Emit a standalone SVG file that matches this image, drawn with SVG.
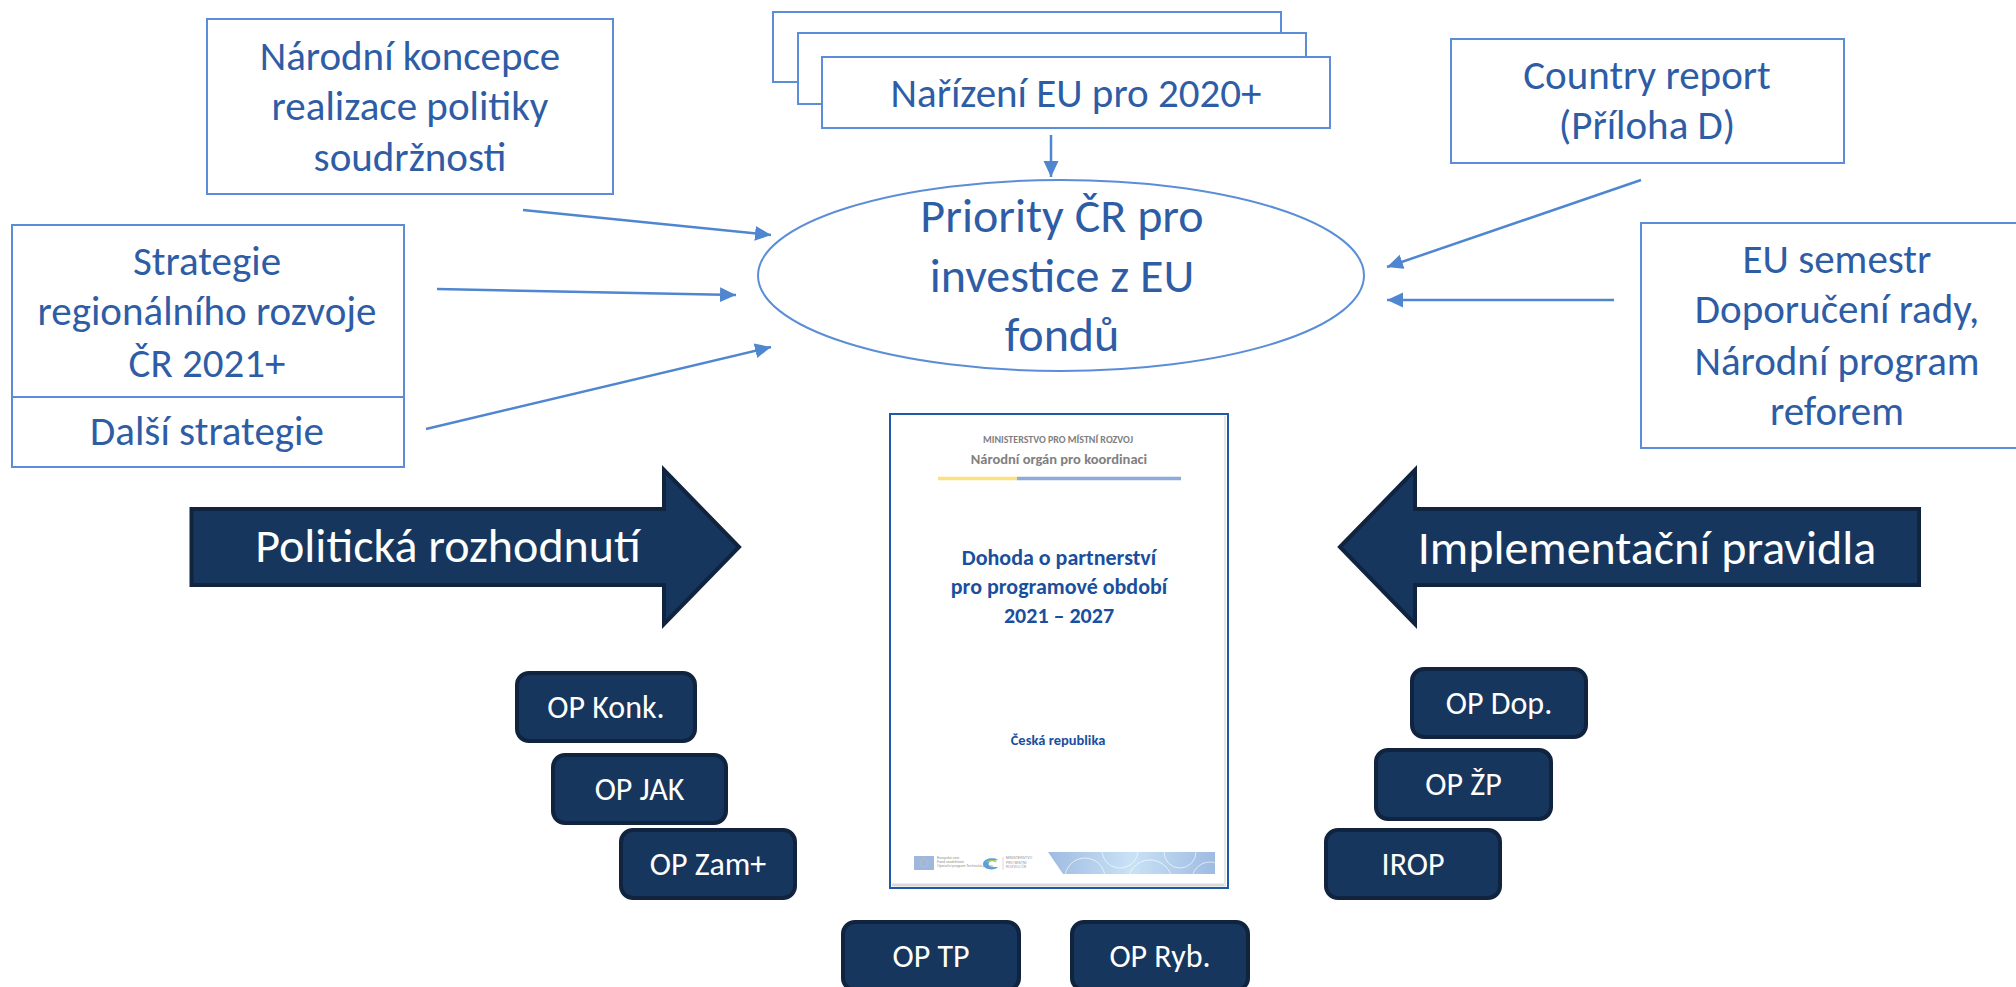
<svg xmlns="http://www.w3.org/2000/svg" width="2016" height="987" viewBox="0 0 2016 987">
<style>
.box{fill:#fff;stroke:#5b8ed6;stroke-width:2}
.t{font-family:Carlito,Lato,'Liberation Sans',sans-serif;fill:#2e5da6;text-anchor:middle}
.t41{font-size:41px}
.t48{font-size:48px}
.big{fill:#17365d;stroke:#10243f;stroke-width:4;stroke-linejoin:miter}
.bt{font-family:Carlito,Lato,'Liberation Sans',sans-serif;fill:#fff;text-anchor:middle;font-size:48px}
.op{fill:#17365d;stroke:#10243f;stroke-width:4}
.ot{font-family:Carlito,Lato,'Liberation Sans',sans-serif;fill:#fff;text-anchor:middle;font-size:32px}
.con{stroke:#4f86d0;stroke-width:2.5;fill:none;marker-end:url(#ah)}
.dg{font-family:Carlito,Lato,'Liberation Sans',sans-serif;fill:#808080;text-anchor:middle;font-weight:bold}
.db{font-family:Carlito,Lato,'Liberation Sans',sans-serif;fill:#1a4f9e;text-anchor:middle;font-weight:bold}
.tiny{font-family:'Liberation Sans',sans-serif;fill:#8c8c8c;font-size:3.5px}
</style>
<defs>
<marker id="ah" markerUnits="userSpaceOnUse" markerWidth="18" markerHeight="16" refX="16" refY="7.5" orient="auto">
<path d="M0,0 L16,7.5 L0,15 z" fill="#4f86d0"/>
</marker>
<linearGradient id="band" x1="0" y1="0" x2="1" y2="0">
<stop offset="0" stop-color="#9fbbe2"/>
<stop offset="0.5" stop-color="#c9e2f6"/>
<stop offset="1" stop-color="#9fbbe2"/>
</linearGradient>
<clipPath id="bandclip"><polygon points="1048,852 1215,852 1215,874 1063,874"/></clipPath>
</defs>

<rect width="2016" height="987" fill="#fff"/>

<g id="narodni-koncepce">
<rect class="box" x="207" y="19" width="406" height="175"/>
<text class="t t41" x="410" y="70">Národní koncepce</text>
<text class="t t41" x="410" y="120">realizace politiky</text>
<text class="t t41" x="410" y="171">soudržnosti</text>
</g>

<g id="strategie">
<rect class="box" x="12" y="225" width="392" height="242"/>
<line x1="12" y1="397" x2="404" y2="397" stroke="#5b8ed6" stroke-width="2"/>
<text class="t t41" x="207" y="275">Strategie</text>
<text class="t t41" x="207" y="325">regionálního rozvoje</text>
<text class="t t41" x="207" y="377">ČR 2021+</text>
<text class="t t41" x="207" y="445">Další strategie</text>
</g>

<g id="narizeni">
<rect class="box" x="773" y="12" width="508" height="70"/>
<rect class="box" x="798" y="33" width="508" height="71"/>
<rect class="box" x="822" y="57" width="508" height="71"/>
<text class="t t41" x="1076" y="107">Nařízení EU pro 2020+</text>
</g>

<g id="priority">
<ellipse cx="1061" cy="275.5" rx="303" ry="95.5" fill="#fff" stroke="#5b8ed6" stroke-width="2"/>
<text class="t t48" x="1062" y="232">Priority ČR pro</text>
<text class="t t48" x="1062" y="292">investice z EU</text>
<text class="t t48" x="1062" y="351">fondů</text>
</g>

<g id="country-report">
<rect class="box" x="1451" y="39" width="393" height="124"/>
<text class="t t41" x="1647" y="89">Country report</text>
<text class="t t41" x="1647" y="139">(Příloha D)</text>
</g>

<g id="eu-semestr">
<rect class="box" x="1641" y="223" width="400" height="225"/>
<text class="t t41" x="1837" y="273">EU semestr</text>
<text class="t t41" x="1837" y="323">Doporučení rady,</text>
<text class="t t41" x="1837" y="375">Národní program</text>
<text class="t t41" x="1837" y="425">reforem</text>
</g>

<g id="connectors">
<line class="con" x1="1051" y1="135" x2="1051" y2="177" stroke-width="1.8"/>
<line class="con" x1="523" y1="210" x2="771" y2="235"/>
<line class="con" x1="437" y1="289" x2="736" y2="295"/>
<line class="con" x1="426" y1="429" x2="771" y2="347"/>
<line class="con" x1="1641" y1="180" x2="1387" y2="267"/>
<line class="con" x1="1614" y1="300" x2="1387" y2="300"/>
</g>

<g id="politicka-rozhodnuti">
<polygon class="big" points="191.5,509 664,509 664,470 739,547 664,624 664,585 191.5,585"/>
<text class="bt" x="448" y="562">Politická rozhodnutí</text>
</g>

<g id="implementacni-pravidla">
<polygon class="big" points="1340,547 1415,470 1415,509 1919,509 1919,585 1415,585 1415,624"/>
<text class="bt" x="1647" y="564">Implementační pravidla</text>
</g>

<g id="dohoda">
<rect x="890" y="414" width="338" height="474" fill="#fff" stroke="#1f5aa8" stroke-width="2"/>
<line x1="892" y1="885" x2="1226" y2="885" stroke="#d9d9d9" stroke-width="3"/>
<line x1="1225" y1="416" x2="1225" y2="886" stroke="#e6e6e6" stroke-width="2"/>
<text class="dg" x="1058" y="443" font-size="10">MINISTERSTVO PRO MÍSTNÍ ROZVOJ</text>
<text class="dg" x="1059" y="464" font-size="14.5">Národní orgán pro koordinaci</text>
<line x1="938" y1="478.5" x2="1017" y2="478.5" stroke="#fde17f" stroke-width="3.5"/>
<line x1="1017" y1="478.5" x2="1181" y2="478.5" stroke="#8eaadb" stroke-width="3.5"/>
<text class="db" x="1059" y="565" font-size="22">Dohoda o partnerství</text>
<text class="db" x="1059" y="594" font-size="22">pro programové období</text>
<text class="db" x="1059" y="623" font-size="22">2021 – 2027</text>
<text class="db" x="1058" y="745" font-size="14.5">Česká republika</text>
<rect x="914" y="856" width="20" height="14" fill="#9fb6de"/>
<circle cx="924" cy="863" r="4" fill="none" stroke="#e8d77a" stroke-width="0.8" stroke-dasharray="0.8,1.3"/>
<text class="tiny" x="937" y="859">Evropská unie</text>
<text class="tiny" x="937" y="863">Fond soudržnosti</text>
<text class="tiny" x="937" y="867">Operační program Technická pomoc</text>
<path d="M983,864 C983,858 995,857 998,860 L992,861 C988,861 987,866 992,867 L998,867 C995,871 983,870 983,864 z" fill="#5f9fd6"/>
<path d="M987,862 C990,860 994,860 996,862" stroke="#a8cf45" stroke-width="1.5" fill="none"/>
<line x1="1003" y1="857" x2="1003" y2="870" stroke="#bfbfbf" stroke-width="0.6"/>
<text class="tiny" x="1006" y="859">MINISTERSTVO</text>
<text class="tiny" x="1006" y="863.5">PRO MÍSTNÍ</text>
<text class="tiny" x="1006" y="868">ROZVOJ ČR</text>
<polygon points="1048,852 1215,852 1215,874 1063,874" fill="url(#band)"/>
<g clip-path="url(#bandclip)" fill="none" stroke="#fff" stroke-width="0.8" opacity="0.8">
<circle cx="1085" cy="878" r="20"/>
<circle cx="1120" cy="850" r="18"/>
<circle cx="1150" cy="882" r="22"/>
<circle cx="1180" cy="852" r="16"/>
<circle cx="1210" cy="880" r="18"/>
</g>
</g>

<g id="op-konk"><rect class="op" x="517" y="673" width="178" height="68" rx="12"/><text class="ot" x="606" y="718">OP Konk.</text></g>
<g id="op-jak"><rect class="op" x="553" y="755" width="173" height="68" rx="12"/><text class="ot" x="639.5" y="800">OP JAK</text></g>
<g id="op-zam"><rect class="op" x="621" y="830" width="174" height="68" rx="12"/><text class="ot" x="708" y="875">OP Zam+</text></g>
<g id="op-tp"><rect class="op" x="843" y="922" width="176" height="68" rx="12"/><text class="ot" x="931" y="967">OP TP</text></g>
<g id="op-ryb"><rect class="op" x="1072" y="922" width="176" height="68" rx="12"/><text class="ot" x="1160" y="967">OP Ryb.</text></g>
<g id="op-dop"><rect class="op" x="1412" y="669" width="174" height="68" rx="12"/><text class="ot" x="1499" y="714">OP Dop.</text></g>
<g id="op-zp"><rect class="op" x="1376" y="750" width="175" height="69" rx="12"/><text class="ot" x="1463.5" y="795">OP ŽP</text></g>
<g id="irop"><rect class="op" x="1326" y="830" width="174" height="68" rx="12"/><text class="ot" x="1413" y="875">IROP</text></g>
</svg>
